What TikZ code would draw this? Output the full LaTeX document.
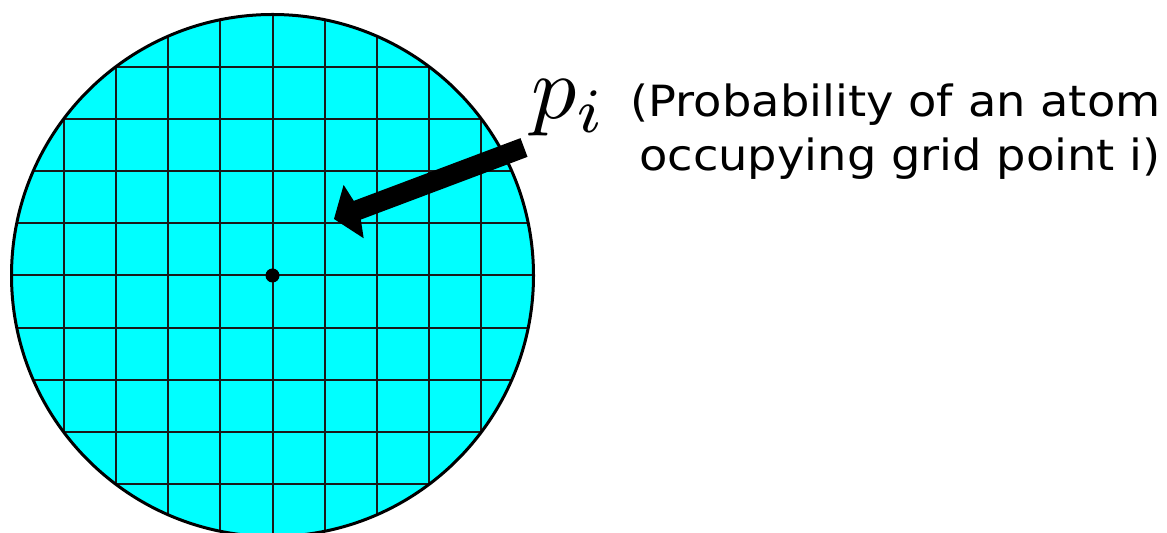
\documentclass[tikz,border=0pt]{standalone}
\usepackage{fontspec}
\setsansfont{DejaVu Sans}
\usetikzlibrary{arrows.meta,positioning}
\definecolor{diskcyan}{RGB}{0,255,255}

\begin{document}
\begin{tikzpicture}[x=0.5pt,y=-0.5pt,
  gridline/.style={line width=1pt,black!90},
  desctext/.style={inner sep=0pt,align=right,xscale=1.078,font={\fontsize{21.5}{27.2}\selectfont\sffamily}}]
\useasboundingbox (0,0) rectangle (1167,533);
\coordinate (c) at (272.5,275.5);
\fill[diskcyan] (c) circle[radius=130.5pt];
\begin{scope}
\clip (c) circle[radius=130.5pt];
\foreach \k [evaluate=\k as \gx using 272.5+52.2*\k, evaluate=\k as \gy using 275.5+52.2*\k] in {-5,...,5} {
    \draw[gridline] (\gx,0) -- (\gx,560);
    \draw[gridline] (0,\gy) -- (560,\gy);
}
\end{scope}
\draw[line width=1.5pt] (c) circle[radius=130.5pt];
\fill (c) circle[radius=3.5pt];
\node[anchor=base west,inner sep=0pt] (pi) at (531,118.6) {\scalebox{4.5}{$p_i$}};
\node[desctext,anchor=north east] (desc) at (1161,83) {(Probability of an atom\\occupying grid point i)};
\coordinate (tail) at (524,147.5);
\coordinate (target) at (334,219);
\draw[line width=10pt,-{Kite[length=13.5pt,width=28.5pt,inset=3pt]}] (tail) -- (target);
\end{tikzpicture}
\end{document}
